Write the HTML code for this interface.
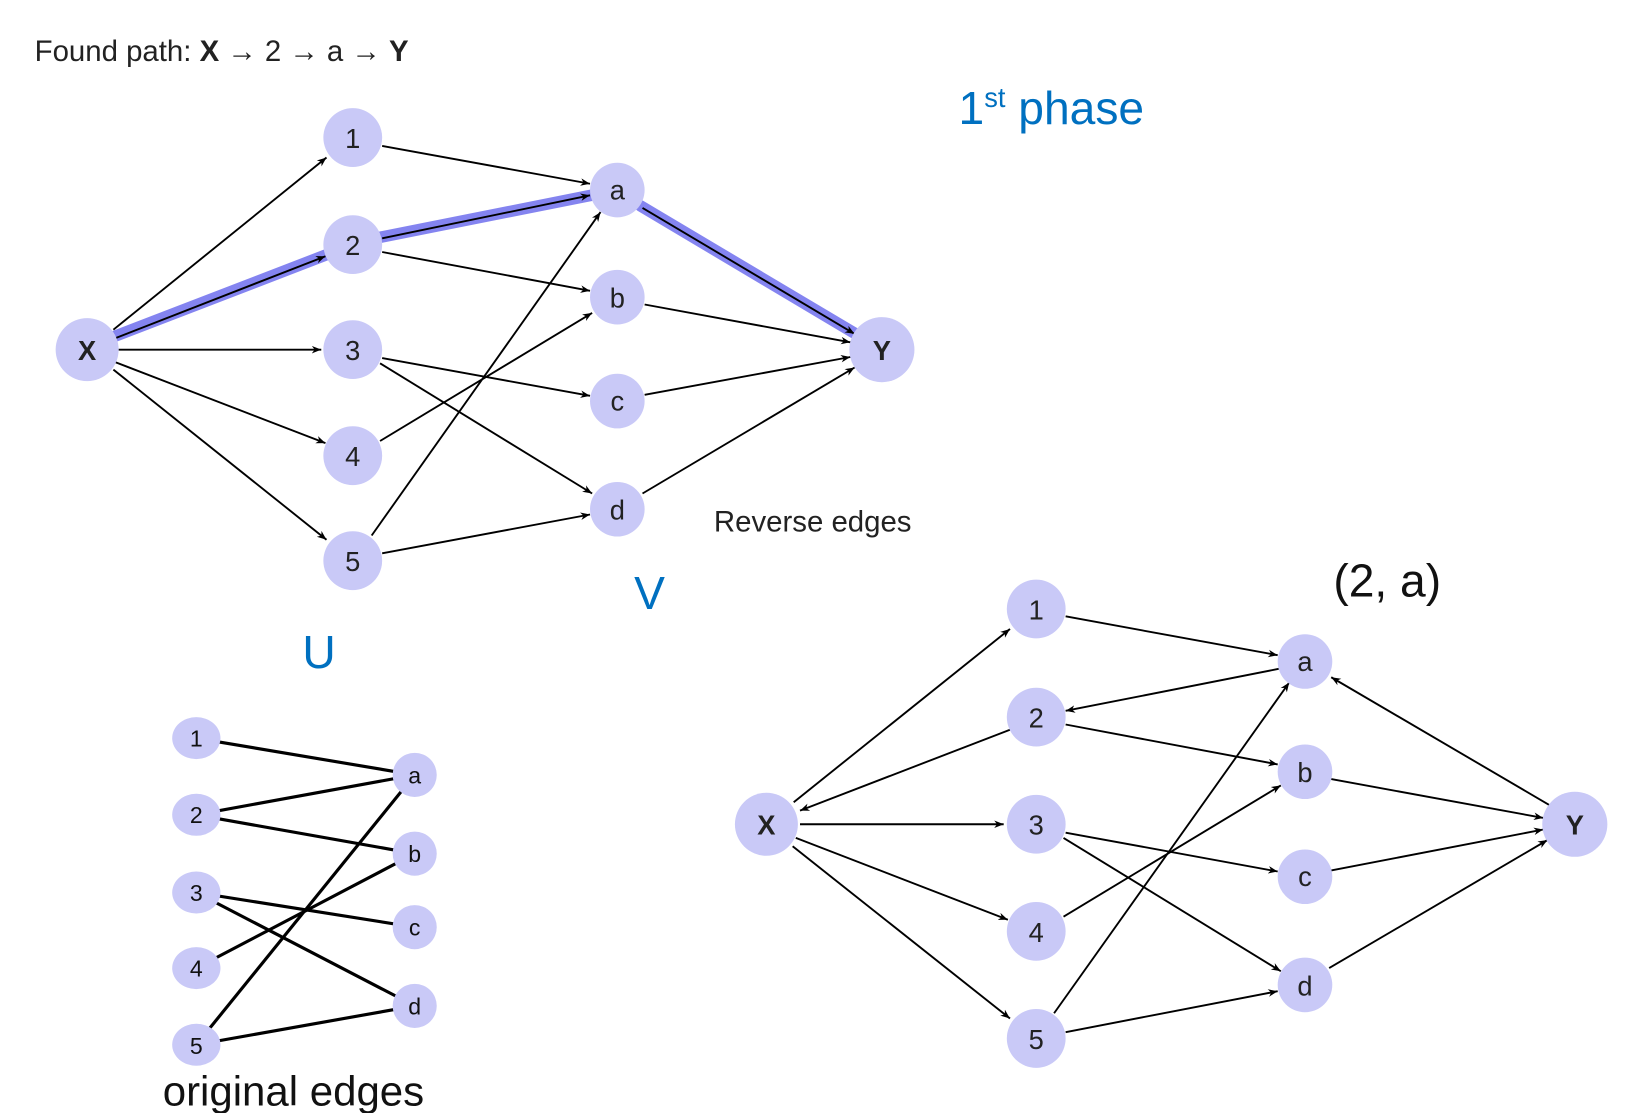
<!DOCTYPE html>
<html><head><meta charset="utf-8"><style>
html,body{margin:0;padding:0;background:#fff}
svg{display:block}
text{font-family:"Liberation Sans",sans-serif}
</style></head><body>
<svg width="1642" height="1113" viewBox="0 0 1564 1060" preserveAspectRatio="none" xmlns="http://www.w3.org/2000/svg">
<defs>
<marker id="ar" viewBox="0 0 10 10" refX="10" refY="5" markerWidth="9" markerHeight="9" orient="auto" markerUnits="userSpaceOnUse"><path d="M0,1 L10,5 L0,9 L3,5 z" fill="#000"/></marker>
</defs>
<rect width="1564" height="1060" fill="#fff"/>
<text x="33" y="58" font-size="28" fill="#222">Found path: <tspan font-weight="bold">X</tspan> → 2 → a → <tspan font-weight="bold">Y</tspan></text>
<text x="913" y="118" font-size="44" fill="#0070c0">1<tspan font-size="26" dy="-16">st</tspan><tspan dy="16"> phase</tspan></text>
<text x="680" y="506" font-size="28" fill="#222">Reverse edges</text>
<text x="604" y="580" font-size="44" fill="#0070c0">V</text>
<text x="288" y="636" font-size="44" fill="#0070c0">U</text>
<text x="1270" y="568" font-size="44" fill="#111" font-family="Liberation Serif, serif">(2, a)</text>
<text x="155" y="1053" font-size="40" fill="#111">original edges</text>

<!-- top graph highlight -->
<g stroke="#7777ee" stroke-width="11" stroke-linecap="round" fill="none" opacity="0.9">
<line x1="110" y1="320" x2="310" y2="243"/>
<line x1="362" y1="226" x2="563" y2="186"/>
<line x1="610" y1="196" x2="815" y2="318"/>
</g>
<g stroke="#000" stroke-width="1.8" fill="none" marker-end="url(#ar)">
<line x1="108" y1="314" x2="311" y2="150"/>
<line x1="110" y1="322" x2="310" y2="244"/>
<line x1="113" y1="333" x2="306" y2="333"/>
<line x1="110" y1="345" x2="310" y2="422"/>
<line x1="108" y1="352" x2="311" y2="514"/>
<line x1="364" y1="139" x2="562" y2="175"/>
<line x1="364" y1="227" x2="562" y2="186"/>
<line x1="364" y1="240" x2="562" y2="277"/>
<line x1="364" y1="341" x2="562" y2="377"/>
<line x1="362" y1="346" x2="564" y2="470"/>
<line x1="362" y1="420" x2="564" y2="298"/>
<line x1="354" y1="510" x2="572" y2="202"/>
<line x1="364" y1="527" x2="562" y2="490"/>
<line x1="612" y1="198" x2="814" y2="318"/>
<line x1="614" y1="290" x2="810" y2="326"/>
<line x1="614" y1="376" x2="810" y2="340"/>
<line x1="612" y1="470" x2="814" y2="350"/>
</g>
<g fill="#c9c9f7">
<circle cx="83" cy="333" r="30"/><circle cx="840" cy="333" r="31"/>
<circle cx="336" cy="131" r="28"/><circle cx="336" cy="233" r="28"/><circle cx="336" cy="333" r="28"/><circle cx="336" cy="434" r="28"/><circle cx="336" cy="534" r="28"/>
<circle cx="588" cy="181" r="26"/><circle cx="588" cy="283" r="26"/><circle cx="588" cy="382" r="26"/><circle cx="588" cy="485" r="26"/>
</g>
<g font-size="26" fill="#222" text-anchor="middle">
<text x="83" y="343" font-weight="bold">X</text><text x="840" y="343" font-weight="bold">Y</text>
<text x="336" y="141">1</text><text x="336" y="243">2</text><text x="336" y="343">3</text><text x="336" y="444">4</text><text x="336" y="544">5</text>
<text x="588" y="190">a</text><text x="588" y="293">b</text><text x="588" y="391">c</text><text x="588" y="495">d</text>
</g>

<!-- bottom right graph -->
<g stroke="#000" stroke-width="1.8" fill="none" marker-end="url(#ar)">
<line x1="756" y1="764" x2="962" y2="599"/>
<line x1="962" y1="695" x2="762" y2="772"/>
<line x1="762" y1="785" x2="956" y2="785"/>
<line x1="758" y1="798" x2="960" y2="876"/>
<line x1="755" y1="806" x2="962" y2="970"/>
<line x1="1015" y1="587" x2="1217" y2="624"/>
<line x1="1218" y1="637" x2="1015" y2="677"/>
<line x1="1015" y1="690" x2="1217" y2="728"/>
<line x1="1015" y1="793" x2="1217" y2="830"/>
<line x1="1013" y1="798" x2="1220" y2="925"/>
<line x1="1013" y1="873" x2="1220" y2="748"/>
<line x1="1004" y1="965" x2="1228" y2="650"/>
<line x1="1015" y1="983" x2="1217" y2="944"/>
<line x1="1268" y1="742" x2="1470" y2="779"/>
<line x1="1268" y1="829" x2="1470" y2="790"/>
<line x1="1266" y1="922" x2="1474" y2="800"/>
<line x1="1478" y1="768" x2="1268" y2="645"/>
</g>
<g fill="#c9c9f7">
<circle cx="730" cy="785" r="30"/><circle cx="1500" cy="785" r="31"/>
<circle cx="987" cy="580" r="28"/><circle cx="987" cy="683" r="28"/><circle cx="987" cy="785" r="28"/><circle cx="987" cy="887" r="28"/><circle cx="987" cy="989" r="28"/>
<circle cx="1243" cy="630" r="26"/><circle cx="1243" cy="735" r="26"/><circle cx="1243" cy="835" r="26"/><circle cx="1243" cy="938" r="26"/>
</g>
<g font-size="26" fill="#222" text-anchor="middle">
<text x="730" y="795" font-weight="bold">X</text><text x="1500" y="795" font-weight="bold">Y</text>
<text x="987" y="590">1</text><text x="987" y="693">2</text><text x="987" y="795">3</text><text x="987" y="897">4</text><text x="987" y="999">5</text>
<text x="1243" y="639">a</text><text x="1243" y="745">b</text><text x="1243" y="844">c</text><text x="1243" y="948">d</text>
</g>

<!-- bottom left graph -->
<g stroke="#000" stroke-width="3" fill="none">
<line x1="187" y1="703" x2="395" y2="738"/>
<line x1="187" y1="776" x2="395" y2="738"/>
<line x1="187" y1="776" x2="395" y2="813"/>
<line x1="187" y1="850" x2="395" y2="883"/>
<line x1="187" y1="850" x2="395" y2="958"/>
<line x1="187" y1="922" x2="395" y2="813"/>
<line x1="187" y1="995" x2="395" y2="738"/>
<line x1="187" y1="995" x2="395" y2="958"/>
</g>
<g fill="#c9c9f7">
<ellipse cx="187" cy="703" rx="23" ry="20"/><ellipse cx="187" cy="776" rx="23" ry="20"/><ellipse cx="187" cy="850" rx="23" ry="20"/><ellipse cx="187" cy="922" rx="23" ry="20"/><ellipse cx="187" cy="995" rx="23" ry="20"/>
<ellipse cx="395" cy="738" rx="21" ry="21"/><ellipse cx="395" cy="813" rx="21" ry="21"/><ellipse cx="395" cy="883" rx="21" ry="21"/><ellipse cx="395" cy="958" rx="21" ry="21"/>
</g>
<g font-size="22" fill="#111" text-anchor="middle">
<text x="187" y="711">1</text><text x="187" y="784">2</text><text x="187" y="858">3</text><text x="187" y="930">4</text><text x="187" y="1004">5</text>
<text x="395" y="746">a</text><text x="395" y="821">b</text><text x="395" y="891">c</text><text x="395" y="966">d</text>
</g>
</svg>
</body></html>
